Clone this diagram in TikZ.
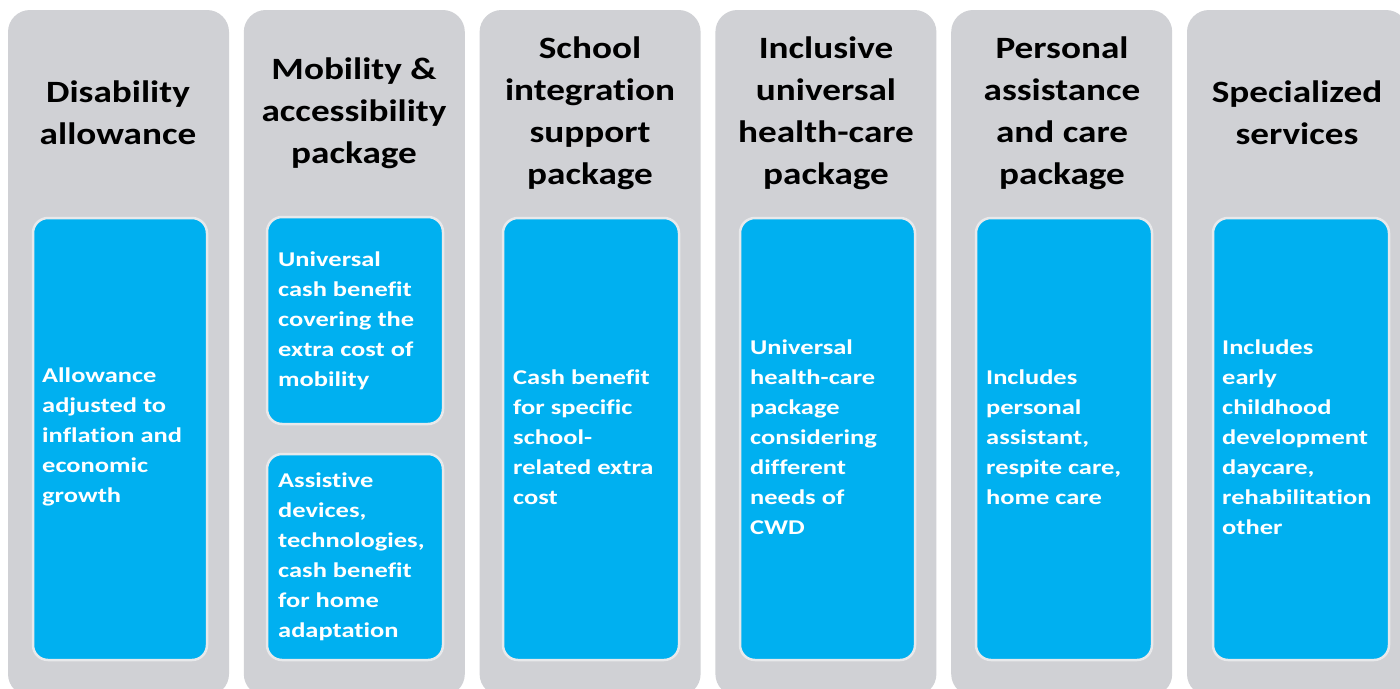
\documentclass[tikz,border=0pt]{standalone}
\usepackage{fontspec}
\setmainfont{Carlito}[FakeStretch=1.2,Ligatures=NoCommon]
\newfontfamily\bodyfont{Carlito}[FakeStretch=1.26,Ligatures=NoCommon]
\definecolor{colgray}{RGB}{208,209,213}
\definecolor{boxblue}{RGB}{0,176,240}
\definecolor{boxedge}{RGB}{232,233,235}
\begin{document}
\begin{tikzpicture}[x=1pt,y=-1pt,
  column/.style={fill=colgray,rounded corners=22pt},
  bluebox/.style={fill=boxblue,draw=boxedge,line width=2.5pt,rounded corners=15pt},
  heading/.style={align=center,font=\bfseries\fontsize{31}{42}\selectfont,text=black,inner sep=0pt},
  body/.style={align=left,font=\bodyfont\bfseries\fontsize{21}{30}\selectfont,text=white,inner sep=0pt,anchor=west}]
\useasboundingbox (0,0) rectangle (1400,688);
\clip (0,0) rectangle (1400,688);
\fill[white] (0,0) rectangle (1400,688);
% columns
\foreach \i in {0,...,5}{
  \pgfmathsetmacro{\xl}{8+235.8*\i}
  \path[column] (\xl,10) rectangle ++(221,686);
}
% headings
\node[heading] (h1) at (118,113) {Disability\\allowance};
\node[heading] (h2) at (354,113) {Mobility \&\\accessibility\\package};
\node[heading] (h3) at (590,113) {School\\integration\\support\\package};
\node[heading] (h4) at (826,113) {Inclusive\\universal\\health-care\\package};
\node[heading] (h5) at (1062,113) {Personal\\assistance\\and care\\package};
\node[heading] (h6) at (1297,113) {Specialized\\services};
% blue boxes
\draw[bluebox] (33,218) rectangle (207,660);
\draw[bluebox] (267,217) rectangle (443,424);
\draw[bluebox] (267,454) rectangle (443,660);
\draw[bluebox] (503,218) rectangle (679,660);
\draw[bluebox] (740,218) rectangle (915,660);
\draw[bluebox] (976,218) rectangle (1152,660);
\draw[bluebox] (1213,218) rectangle (1389,660);
% body texts
\node[body] (b1) at (42,437) {Allowance\\adjusted to\\inflation and\\economic\\growth};
\node[body] (b2) at (278,321) {Universal\\cash benefit\\covering the\\extra cost of\\mobility};
\node[body] (b3) at (278,557) {Assistive\\devices,\\technologies,\\cash benefit\\for home\\adaptation};
\node[body] (b4) at (513,437) {Cash benefit\\for specific\\school-\\related extra\\cost};
\node[body] (b5) at (750,437) {Universal\\health-care\\package\\considering\\different\\needs of\\CWD};
\node[body] (b6) at (986,437) {Includes\\personal\\assistant,\\respite care,\\home care};
\node[body] (b7) at (1222,437) {Includes\\early\\childhood\\development\\daycare,\\rehabilitation\\other};
\end{tikzpicture}
\end{document}
